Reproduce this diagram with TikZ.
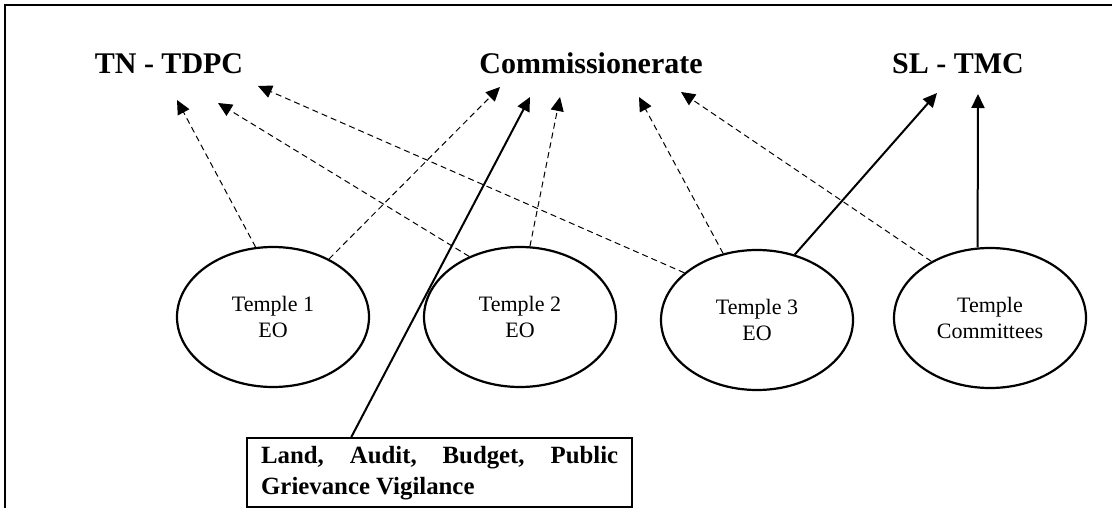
\documentclass[tikz,border=0pt]{standalone}
\usepackage{fontspec}
\setmainfont{Liberation Serif}
\usepackage{tikz}
\usetikzlibrary{shapes.geometric,arrows.meta}
\pgfdeclarelayer{edgelayer}
\pgfdeclarelayer{nodelayer}
\pgfsetlayers{edgelayer,nodelayer,main}
\tikzstyle{none} = []
\tikzstyle{head} = [font=\fontsize{15}{18}\selectfont\bfseries, inner sep=0pt, anchor=base]
\tikzstyle{temple} = [draw, ellipse, line width=1.1pt, minimum width=96pt, minimum height=70pt, inner sep=0pt, align=center, font=\fontsize{11}{13}\selectfont]
\tikzstyle{remit} = [draw, line width=1.2pt, anchor=north west, text width=178.5pt, inner xsep=7pt, inner ysep=0pt, minimum height=34.5pt, align=justify, font=\fontsize{12.4}{15.5}\selectfont\bfseries]
\tikzstyle{soft} = [-{Triangle[length=7pt,width=6.5pt]}, line width=0.5pt, dash pattern=on 3pt off 2pt]
\tikzstyle{hard} = [-{Triangle[length=7pt,width=6.5pt]}, line width=1pt]
\tikzstyle{frame} = [line width=1.4pt]

\begin{document}
\begin{tikzpicture}[x=0.5pt, y=-0.5pt]
	\useasboundingbox (0, 0) rectangle (1112, 508);
	\begin{pgfonlayer}{nodelayer}
		\node [style=head] (0) at (169, 74) {TN - TDPC};
		\node [style=head] (1) at (591, 74) {Commissionerate};
		\node [style=head] (2) at (958, 74) {SL - TMC};
		\node [style=temple] (3) at (273, 317) {Temple 1\\EO};
		\node [style=temple] (4) at (520, 317) {Temple 2\\EO};
		\node [style=temple] (5) at (757, 320) {Temple 3\\EO};
		\node [style=temple] (6) at (990, 318) {Temple\\Committees};
		\node [style=remit] (7) at (246, 437) {Land, Audit, Budget, Public Grievance Vigilance};
		\node [style=none] (8) at (177, 100) {};
		\node [style=none] (9) at (218, 103) {};
		\node [style=none] (10) at (258, 86) {};
		\node [style=none] (11) at (500, 87) {};
		\node [style=none] (12) at (530, 97) {};
		\node [style=none] (13) at (560, 97) {};
		\node [style=none] (14) at (639, 97) {};
		\node [style=none] (15) at (681, 92) {};
		\node [style=none] (16) at (937, 93) {};
		\node [style=none] (17) at (978, 94) {};
		\node [style=none] (18) at (5, 508) {};
		\node [style=none] (19) at (5, 5) {};
		\node [style=none] (20) at (1112, 5) {};
	\end{pgfonlayer}
	\begin{pgfonlayer}{edgelayer}
		\draw [style=frame] (18.center) to (19.center) to (20.center);
		\draw [style=soft] (3.104) to (8.center);
		\draw [style=soft] (4.130) to (9.center);
		\draw [style=soft] (5.147) to (10.center);
		\draw [style=soft] (3.46) to (11.center);
		\draw [style=hard] (7.158) to (12.center);
		\draw [style=soft] (4.82) to (13.center);
		\draw [style=soft] (5.117) to (14.center);
		\draw [style=soft] (6.136) to (15.center);
		\draw [style=hard] (5.60) to (16.center);
		\draw [style=hard] (6.100) to (17.center);
	\end{pgfonlayer}
\end{tikzpicture}
\end{document}
